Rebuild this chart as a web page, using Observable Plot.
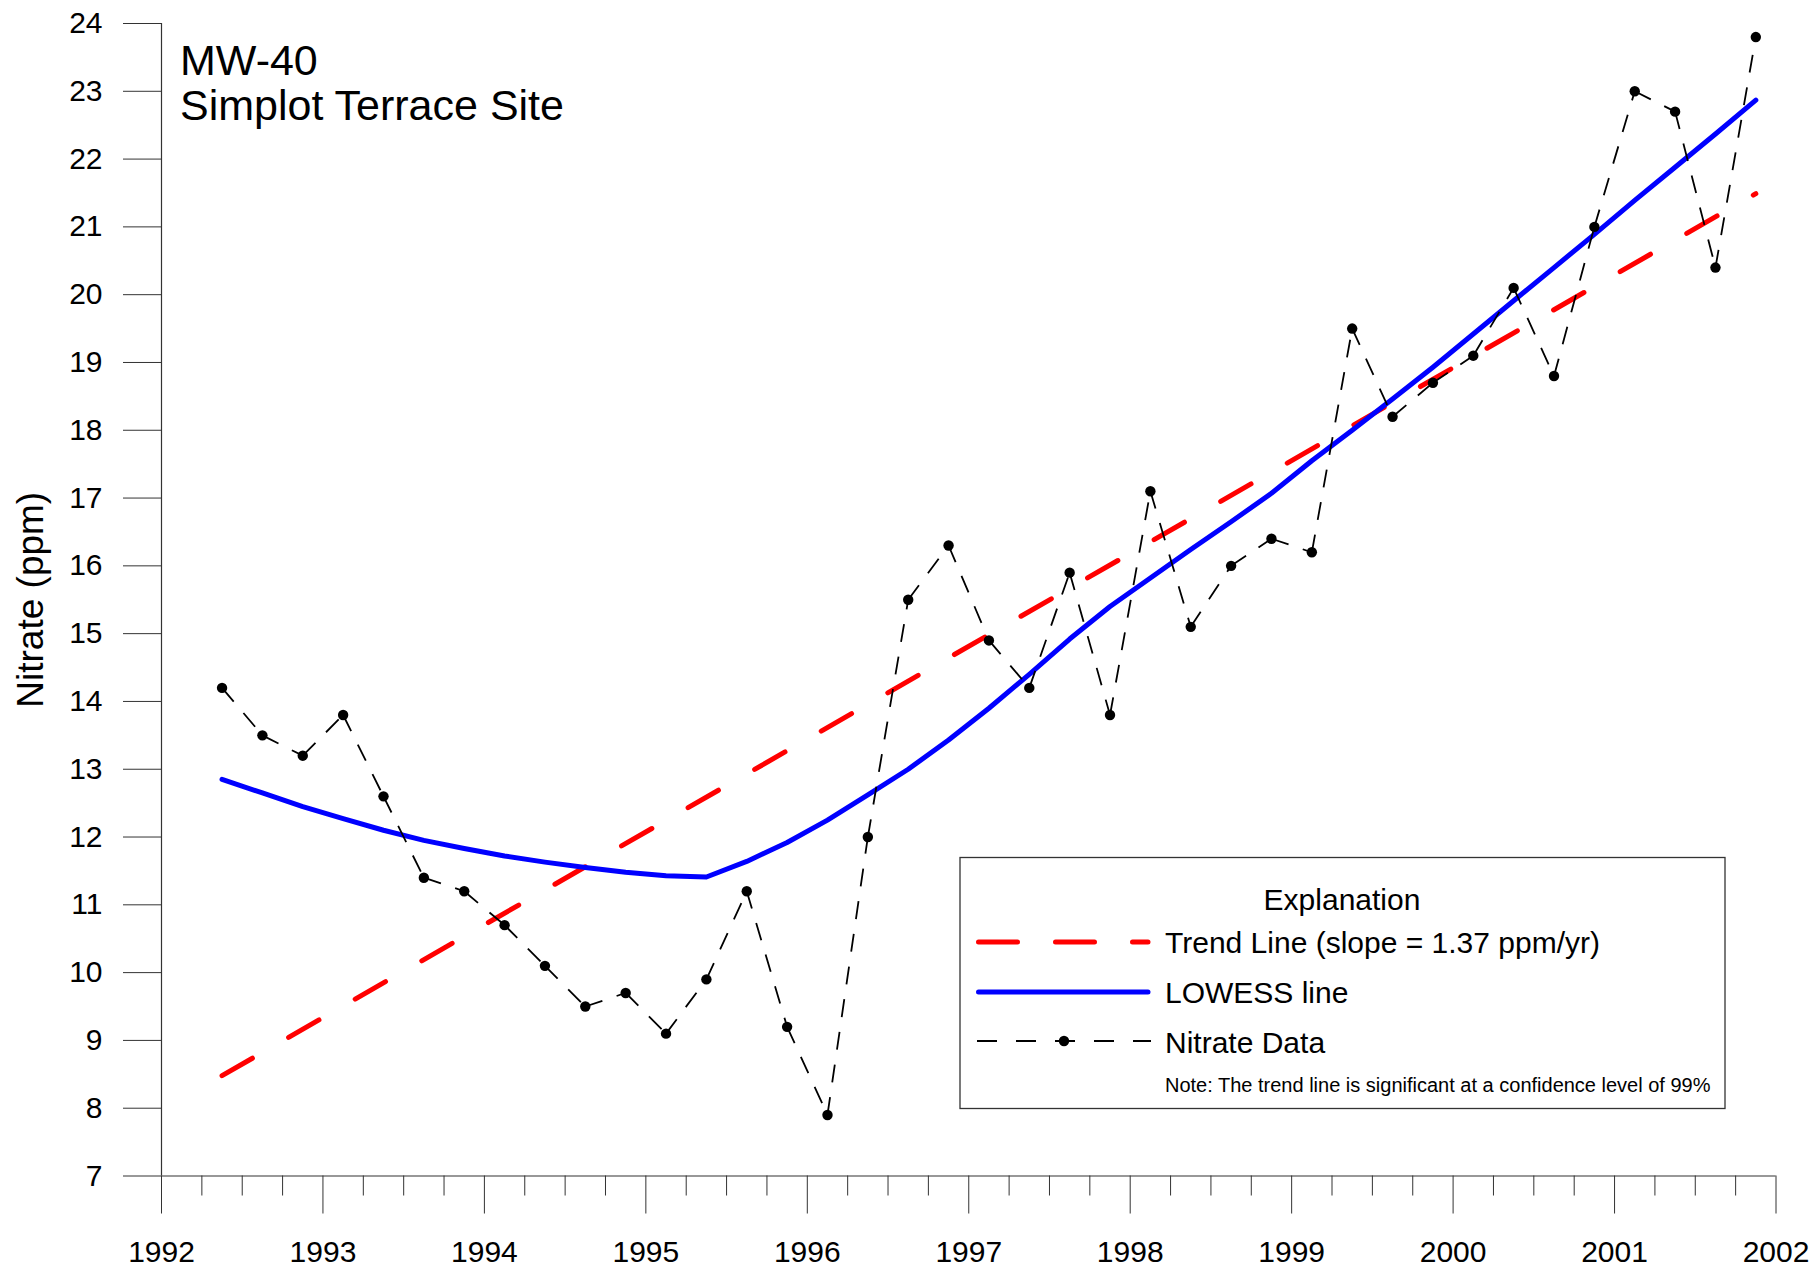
<!DOCTYPE html>
<html>
<head>
<meta charset="utf-8">
<script src="https://cdn.jsdelivr.net/npm/d3@7"></script>
<script src="https://cdn.jsdelivr.net/npm/@observablehq/plot@0.6"></script>
<style>
  html, body { margin: 0; padding: 0; background: #fff; }
  #wrap { position: relative; width: 1816px; height: 1268px; font-family: "Liberation Sans", Arial, sans-serif; }
  #overlay { position: absolute; left: 0; top: 0; pointer-events: none; }
</style>
</head>
<body>
<div id="wrap"><div id="chart"></div></div>
<script>
// ---- Data ----
const sampleDates = [
  1992.375, 1992.625, 1992.875, 1993.125, 1993.375, 1993.625, 1993.875, 1994.125,
  1994.375, 1994.625, 1994.875, 1995.125, 1995.375, 1995.625, 1995.875, 1996.125,
  1996.375, 1996.625, 1996.875, 1997.125, 1997.375, 1997.625, 1997.875, 1998.125,
  1998.375, 1998.625, 1998.875, 1999.125, 1999.375, 1999.625, 1999.875, 2000.125,
  2000.375, 2000.625, 2000.875, 2001.125, 2001.375, 2001.625, 2001.875
];
const nitrate = [
  14.2, 13.5, 13.2, 13.8, 12.6, 11.4, 11.2, 10.7,
  10.1, 9.5, 9.7, 9.1, 9.9, 11.2, 9.2, 7.9,
  12.0, 15.5, 16.3, 14.9, 14.2, 15.9, 13.8, 17.1,
  15.1, 16.0, 16.4, 16.2, 19.5, 18.2, 18.7, 19.1,
  20.1, 18.8, 21.0, 23.0, 22.7, 20.4, 23.8
];
const lowess = [
  12.85, 12.65, 12.45, 12.27, 12.10, 11.95, 11.83, 11.72,
  11.63, 11.55, 11.48, 11.43, 11.41, 11.64, 11.92, 12.25,
  12.62, 13.00, 13.43, 13.90, 14.40, 14.92, 15.40, 15.82,
  16.24, 16.65, 17.07, 17.55, 18.00, 18.46, 18.93, 19.42,
  19.91, 20.40, 20.89, 21.39, 21.88, 22.37, 22.87
];
const trendDates = [1992.375, 2001.875];
const trendValues = [8.48, 21.49];

const yearTicks = [1992, 1993, 1994, 1995, 1996, 1997, 1998, 1999, 2000, 2001, 2002];
const quarterTicks = d3.range(1992, 2002.001, 0.25).filter(t => !Number.isInteger(t));
const valueTicks = [7, 8, 9, 10, 11, 12, 13, 14, 15, 16, 17, 18, 19, 20, 21, 22, 23, 24];

const titleLines = ["MW-40", "Simplot Terrace Site"];
const yLabel = "Nitrate (ppm)";
const legendTitle = "Explanation";
const legendItems = ["Trend Line (slope = 1.37 ppm/yr)", "LOWESS line", "Nitrate Data"];
const legendNote = "Note: The trend line is significant at a confidence level of 99%";

// ---- Derived tables for Plot ----
const idx = d3.range(sampleDates.length);
const segs = d3.range(sampleDates.length - 1);
const trendIdx = d3.range(trendDates.length);

const FONT = '"Liberation Sans", Arial, sans-serif';
const AX = "#333";

const chart = Plot.plot({
  width: 1816,
  height: 1268,
  marginLeft: 161,
  marginRight: 40.5,
  marginTop: 23,
  marginBottom: 92.5,
  style: { fontFamily: FONT, fontSize: "30px", color: "black", background: "white", overflow: "visible" },
  x: { type: "linear", domain: [1992, 2002] },
  y: { type: "linear", domain: [7, 24] },
  marks: [
    // axes
    Plot.axisY({ ticks: valueTicks, tickSize: 38, tickPadding: 21, stroke: AX, fontSize: 30, label: null, tickFormat: d3.format("d") }),
    Plot.axisX({ ticks: quarterTicks, tickSize: 20, stroke: AX, text: null, label: null }),
    Plot.axisX({ ticks: yearTicks, tickSize: 38, tickPadding: 27, stroke: AX, fontSize: 30, label: null, tickFormat: d3.format("d") }),
    Plot.ruleX([1992], { y1: 7, y2: 24, stroke: AX, strokeWidth: 1.2 }),
    Plot.ruleY([7], { x1: 1992, x2: 2002, stroke: AX, strokeWidth: 1.2 }),
    // y label
    Plot.text([yLabel], { frameAnchor: "left", dx: -130, rotate: -90, fontSize: 37, textAnchor: "middle", lineAnchor: "middle", fill: "black" }),
    // trend line
    Plot.line(trendIdx, {
      x: i => trendDates[i], y: i => trendValues[i],
      stroke: "#ff0000", strokeWidth: 5, strokeDasharray: "35,41.8", strokeLinecap: "round"
    }),
    // LOWESS
    Plot.line(idx, {
      x: i => sampleDates[i], y: i => lowess[i],
      stroke: "#0000ff", strokeWidth: 5, strokeLinejoin: "round", strokeLinecap: "round"
    }),
    // data dashed segments (pattern restarts at each point)
    Plot.link(segs, {
      x1: i => sampleDates[i], y1: i => nitrate[i],
      x2: i => sampleDates[i + 1], y2: i => nitrate[i + 1],
      stroke: "black", strokeWidth: 1.8, strokeDasharray: "18,15"
    }),
    Plot.dot(idx, { x: i => sampleDates[i], y: i => nitrate[i], r: 5.2, fill: "black", stroke: "none" })
  ]
});
document.getElementById("chart").appendChild(chart);

// ---- Overlay: title and legend ----
const svg = d3.select("#wrap").append("svg")
  .attr("id", "overlay").attr("width", 1816).attr("height", 1268)
  .style("font-family", FONT);

svg.selectAll("text.title").data(titleLines).join("text")
  .attr("class", "title")
  .attr("x", 180).attr("y", (d, i) => 75 + i * 44.5)
  .attr("font-size", 43).attr("fill", "black").text(d => d);

const lg = svg.append("g");
lg.append("rect").attr("x", 960).attr("y", 857.5).attr("width", 765).attr("height", 251)
  .attr("fill", "white").attr("stroke", AX).attr("stroke-width", 1.3);
lg.append("text").attr("x", 1342).attr("y", 910).attr("text-anchor", "middle")
  .attr("font-size", 30).text(legendTitle);

const rowY = [942, 992, 1041];
const textY = [953, 1003, 1053];
lg.append("line").attr("x1", 978.5).attr("x2", 1148).attr("y1", rowY[0]).attr("y2", rowY[0])
  .attr("stroke", "#ff0000").attr("stroke-width", 5).attr("stroke-linecap", "round")
  .attr("stroke-dasharray", "39,38");
lg.append("line").attr("x1", 978.5).attr("x2", 1148).attr("y1", rowY[1]).attr("y2", rowY[1])
  .attr("stroke", "#0000ff").attr("stroke-width", 5).attr("stroke-linecap", "round");
lg.append("line").attr("x1", 977).attr("x2", 1151).attr("y1", rowY[2]).attr("y2", rowY[2])
  .attr("stroke", "black").attr("stroke-width", 1.8).attr("stroke-dasharray", "20,19");
lg.append("circle").attr("cx", 1064).attr("cy", rowY[2]).attr("r", 5.2).attr("fill", "black");
lg.selectAll("text.item").data(legendItems).join("text")
  .attr("class", "item").attr("x", 1165).attr("y", (d, i) => textY[i])
  .attr("font-size", 30).text(d => d);
lg.append("text").attr("x", 1165).attr("y", 1092).attr("font-size", 20).text(legendNote);
</script>
</body>
</html>
